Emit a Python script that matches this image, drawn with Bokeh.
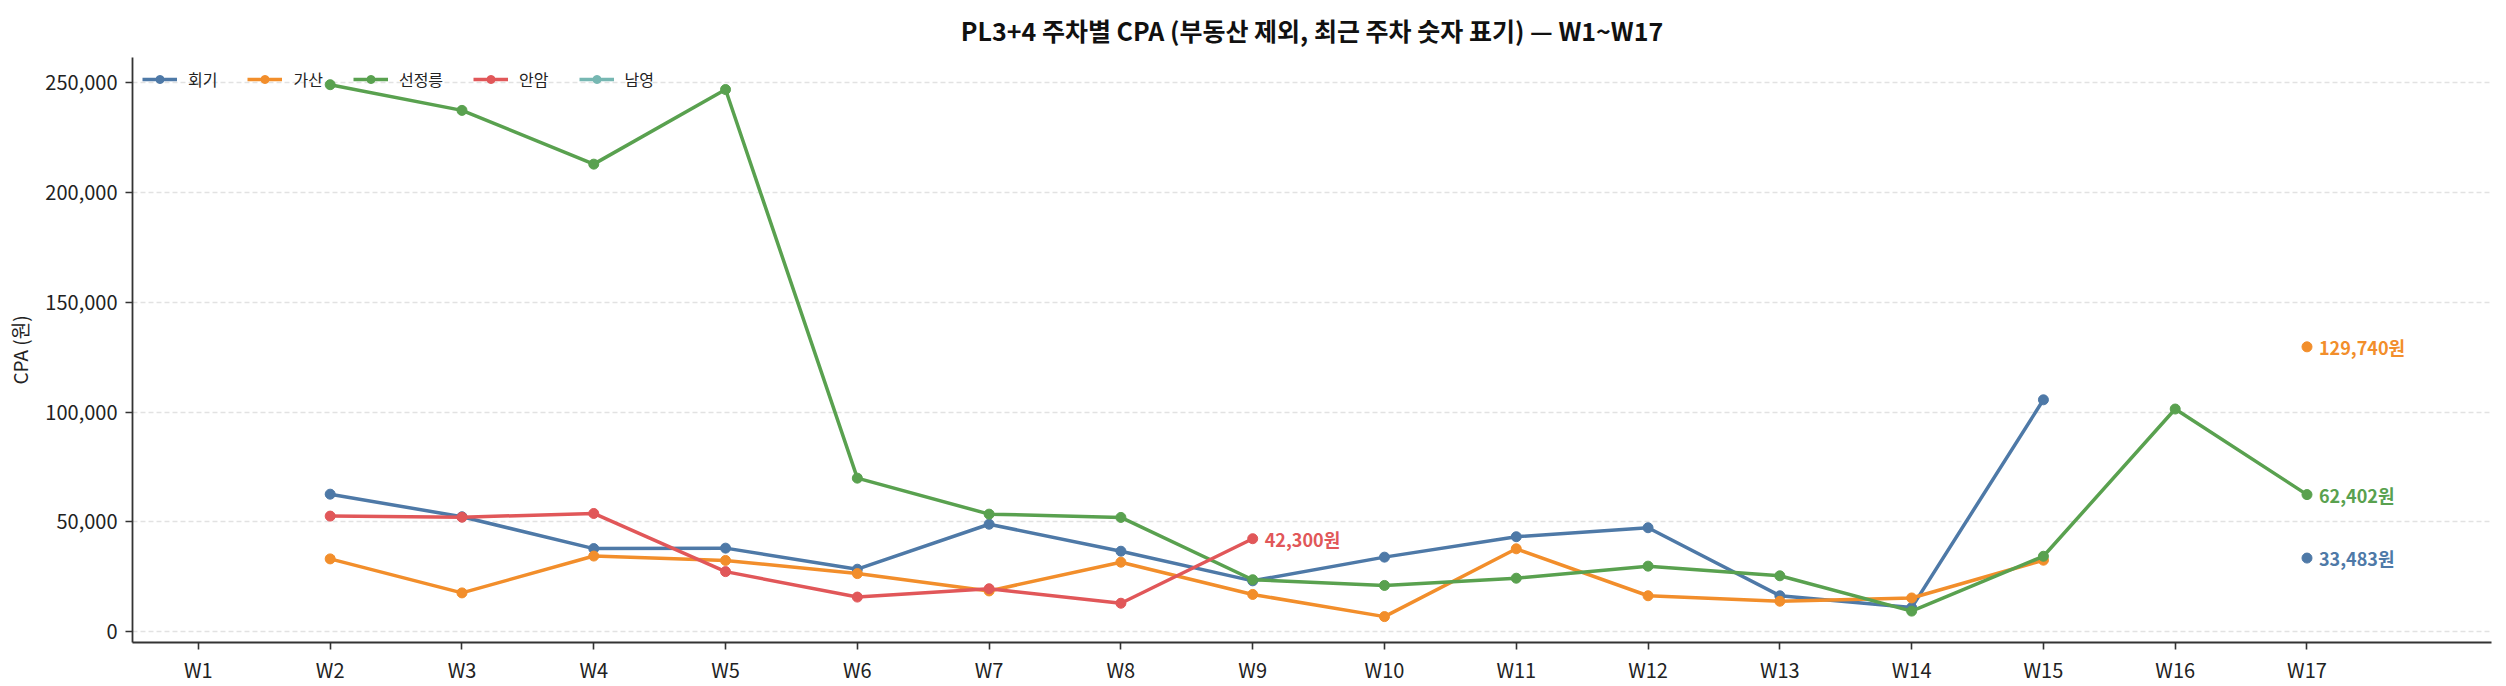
import numpy as np
from bokeh.plotting import figure
from bokeh.models import (ColumnDataSource, FixedTicker, NumeralTickFormatter,
                          Range1d, Legend, LegendItem)
from bokeh.core.properties import value
from bokeh.embed import file_html
from bokeh.resources import INLINE

nan = float("nan")
weeks = [f"W{i}" for i in range(1, 18)]
series_names = ["회기", "가산", "선정릉", "안암", "남영"]
colors = ["#4e79a7", "#f28e2b", "#59a14f", "#e15759", "#76b7b2"]

hoegi = [nan, 62600, 52300, 37800, 38000, 28400, 48900, 36600, 23100, 33900,
         43200, 47300, 16300, 10900, 105600, nan, 33483]
gasan = [nan, 33100, 17600, 34400, 32400, 26400, 18500, 31600, 16900, 6800,
         37700, 16300, 13800, 15300, 32500, nan, 129740]
seonjeongneung = [nan, 249200, 237500, 213000, 247000, 69900, 53500, 52000, 23600,
                  21000, 24300, 29800, 25400, 9300, 34300, 101400, 62402]
anam = [nan, 52600, 52100, 53800, 27300, 15700, 19500, 12900, 42300, nan,
        nan, nan, nan, nan, nan, nan, nan]
namyeong = [nan] * 17
series_values = [hoegi, gasan, seonjeongneung, anam, namyeong]

FONT = "Noto Sans CJK KR"
xpos = list(range(1, len(weeks) + 1))

p = figure(frame_width=2359, frame_height=585,
           min_border_left=132, min_border_right=7,
           min_border_top=57, min_border_bottom=36,
           output_backend="svg", toolbar_location=None,
           x_range=Range1d(0.5, 18.4), y_range=Range1d(-5000, 261600),
           title="PL3+4 주차별 CPA (부동산 제외, 최근 주차 숫자 표기) — W1~W17")

p.title.text_font = FONT
p.title.text_font_size = "25px"
p.title.text_font_style = "bold"
p.title.align = "center"
p.title.text_color = "#111111"
p.title.standoff = 19

p.outline_line_color = None
p.background_fill_color = "white"
p.xgrid.grid_line_color = None
p.ygrid.grid_line_color = "#e2e2e2"
p.ygrid.grid_line_dash = "5 3"
p.ygrid.grid_line_width = 1.3

p.xaxis.ticker = FixedTicker(ticks=xpos)
p.xaxis.major_label_overrides = {x: w for x, w in zip(xpos, weeks)}
p.yaxis.ticker = FixedTicker(ticks=[0, 50000, 100000, 150000, 200000, 250000])
p.yaxis.formatter = NumeralTickFormatter(format="0,0")
p.yaxis.axis_label = "CPA (원)"

for ax in (p.xaxis, p.yaxis):
    ax.axis_line_color = "#333333"
    ax.axis_line_width = 1.8
    ax.major_tick_line_color = "#333333"
    ax.major_tick_line_width = 1.6
    ax.major_tick_in = 0
    ax.major_tick_out = 7
    ax.minor_tick_line_color = None
    ax.major_label_text_font = FONT
    ax.major_label_text_font_size = "20px"
    ax.major_label_text_color = "#222222"
    ax.axis_label_text_font = FONT
    ax.axis_label_text_font_size = "19px"
    ax.axis_label_text_font_style = "normal"
    ax.axis_label_text_color = "#222222"
p.xaxis.major_label_standoff = 5
p.yaxis.major_label_standoff = 8
p.yaxis.axis_label_standoff = 9

items = []
for name, vals, col in zip(series_names, series_values, colors):
    src = ColumnDataSource(dict(x=xpos, y=vals))
    ln = p.line("x", "y", source=src, line_color=col, line_width=3.5)
    sc = p.scatter("x", "y", source=src, size=10, fill_color=col, line_color=col)
    items.append(LegendItem(label=name, renderers=[ln, sc]))
    arr = np.array(vals, dtype=float)
    valid = np.where(~np.isnan(arr))[0]
    if len(valid):
        i = valid[-1]
        p.text(x=[xpos[i]], y=[arr[i]], text=[f"{arr[i]:,.0f}원"],
               x_offset=12, text_baseline="middle", text_align="left",
               text_color=col, text_font=value(FONT), text_font_style="bold",
               text_font_size="18px")

legend = Legend(items=items, location="top_left", orientation="horizontal",
                margin=0, padding=10, spacing=30, glyph_width=35, glyph_height=20,
                label_standoff=11, border_line_alpha=0, background_fill_alpha=0,
                label_text_font=FONT, label_text_font_size="16px",
                label_text_color="#222222")
p.add_layout(legend, "center")

open("out.html", "w").write(file_html(p, INLINE))
